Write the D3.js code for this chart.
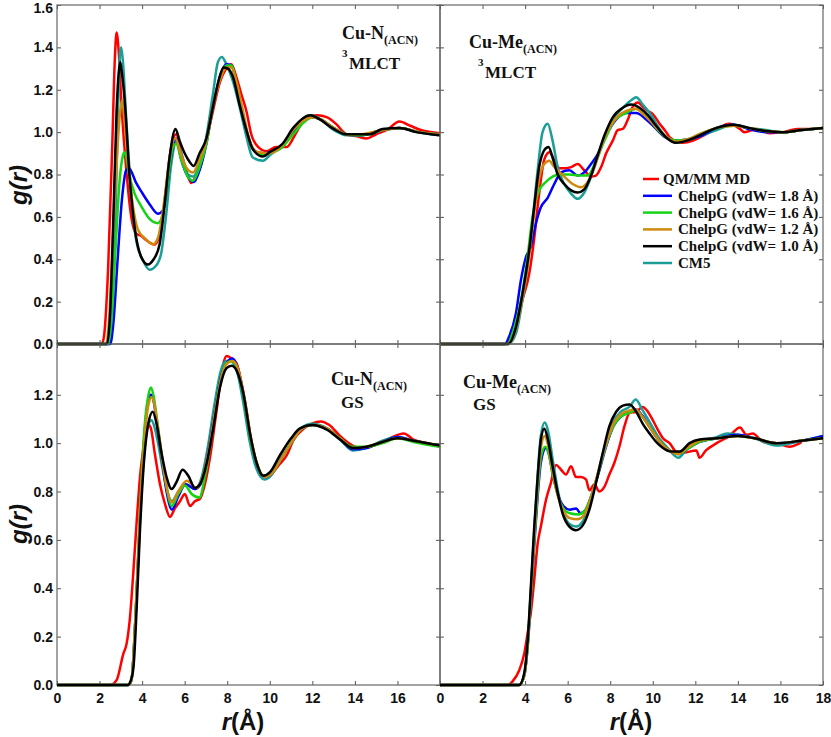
<!DOCTYPE html>
<html>
<head>
<meta charset="utf-8">
<script src="https://d3js.org/d3.v7.min.js"></script>
<style>
	body { margin: 0; background: #fff; }
	.tick text { font-family: "Liberation Sans", Arial, sans-serif; font-weight: bold; font-size: 14px; fill: #111; }
	.tick line { stroke: #555; }
	.axis-title { font-family: "Liberation Sans", Arial, sans-serif; font-weight: bold; font-size: 24px; fill: #111; }
	.note, .legend-label { font-family: "Liberation Serif", "Times New Roman", serif; font-weight: bold; fill: #111; }
	.frame { fill: none; stroke: #666; stroke-width: 1.2; }
	.rdf { fill: none; stroke-width: 2.5; stroke-linejoin: round; }
</style>
</head>
<body>
<div id="chart"></div>
<script>

// legend order: QM/MM, vdW 1.8, vdW 1.6, vdW 1.2, vdW 1.0, CM5
const seriesNames = ["QM/MM MD", "ChelpG (vdW= 1.8 Å)", "ChelpG (vdW= 1.6 Å)", "ChelpG (vdW= 1.2 Å)", "ChelpG (vdW= 1.0 Å)", "CM5"];
const seriesColors = ["#ff0000", "#0000ff", "#14d414", "#cf8a0e", "#000000", "#1a9e96"];

const xTicks = [0, 2, 4, 6, 8, 10, 12, 14, 16, 18];
const yTicksTop = [0, 0.2, 0.4, 0.6, 0.8, 1.0, 1.2, 1.4, 1.6];
const yTicksBottom = [0, 0.2, 0.4, 0.6, 0.8, 1.0, 1.2];

// ---- Cu-N(ACN) 3MLCT ----
const tlQm = [[0,0],[2.1,0],[2.2,0.03],[2.4,0.35],[2.6,0.95],[2.72,1.35],[2.8,1.47],[2.9,1.38],[3.02,1.15],[3.25,0.83],[3.49,0.6],[3.72,0.52],[3.96,0.51],[4.2,0.49],[4.59,0.47],[4.9,0.55],[5.13,0.74],[5.37,0.93],[5.6,0.99],[5.84,0.9],[6.07,0.82],[6.31,0.76],[6.55,0.8],[6.78,0.85],[7.02,0.96],[7.33,1.1],[7.64,1.23],[7.96,1.3],[8.19,1.32],[8.43,1.26],[8.66,1.18],[8.9,1.1],[9.13,0.99],[9.45,0.93],[9.85,0.91],[10.3,0.93],[10.8,0.93],[11.2,0.99],[11.5,1.04],[12.2,1.08],[12.7,1.07],[13.1,1.04],[13.6,0.99],[14.1,0.98],[14.55,0.97],[15.0,0.99],[15.5,1.01],[16.1,1.05],[16.6,1.03],[17.1,1.01],[18,0.995]];
const tlV18 = [[0,0],[2.5,0],[2.65,0.1],[2.85,0.4],[3.05,0.68],[3.25,0.82],[3.38,0.83],[3.72,0.76],[3.96,0.72],[4.35,0.66],[4.74,0.615],[4.98,0.63],[5.21,0.77],[5.45,0.93],[5.6,0.97],[5.84,0.87],[6.15,0.79],[6.44,0.765],[6.7,0.82],[7.02,0.945],[7.33,1.12],[7.72,1.28],[7.96,1.32],[8.19,1.315],[8.58,1.15],[8.9,1.01],[9.29,0.91],[9.68,0.9],[10.0,0.905],[10.6,0.94],[11.1,1.0],[12.0,1.07],[12.4,1.06],[13.0,1.02],[13.6,0.99],[14.2,0.985],[15.3,1.01],[16.1,1.02],[17,1.0],[18,0.99]];
const tlV16 = [[0,0],[2.4,0],[2.55,0.1],[2.75,0.45],[2.95,0.78],[3.1,0.89],[3.18,0.905],[3.41,0.79],[3.65,0.71],[3.96,0.65],[4.35,0.59],[4.74,0.57],[4.98,0.615],[5.21,0.77],[5.45,0.93],[5.6,0.945],[5.84,0.87],[6.15,0.79],[6.39,0.77],[6.7,0.835],[7.02,0.945],[7.33,1.12],[7.72,1.27],[7.96,1.315],[8.19,1.315],[8.5,1.2],[8.9,1.01],[9.29,0.91],[9.68,0.895],[10.0,0.9],[10.6,0.93],[11.1,0.99],[12.0,1.07],[12.4,1.06],[13.0,1.02],[13.6,0.99],[14.2,0.985],[15.3,1.01],[16.1,1.02],[17,1.0],[18,0.99]];
const tlV12 = [[0,0],[2.3,0],[2.45,0.12],[2.6,0.45],[2.8,0.85],[2.95,1.08],[3.07,1.15],[3.15,1.08],[3.33,0.87],[3.57,0.65],[3.8,0.54],[4.12,0.5],[4.51,0.47],[4.74,0.5],[5.06,0.69],[5.29,0.88],[5.57,0.97],[5.84,0.89],[6.1,0.83],[6.39,0.81],[6.7,0.87],[7.02,0.96],[7.33,1.12],[7.64,1.24],[7.96,1.305],[8.19,1.305],[8.43,1.24],[8.74,1.1],[9.05,0.96],[9.45,0.905],[9.99,0.9],[10.6,0.94],[11.1,1.01],[12.0,1.07],[12.4,1.06],[13.0,1.02],[13.6,0.99],[14.2,0.99],[15.3,1.01],[16.1,1.02],[17,1.0],[18,0.99]];
const tlV10 = [[0,0],[2.35,0],[2.5,0.15],[2.65,0.6],[2.8,1.1],[2.9,1.28],[2.97,1.33],[3.05,1.28],[3.18,1.15],[3.41,0.79],[3.65,0.55],[3.96,0.41],[4.27,0.375],[4.51,0.395],[4.82,0.47],[5.06,0.66],[5.29,0.88],[5.57,1.015],[5.76,0.96],[6.0,0.9],[6.23,0.86],[6.42,0.84],[6.7,0.9],[7.02,0.97],[7.33,1.12],[7.64,1.26],[7.83,1.305],[8.03,1.30],[8.27,1.26],[8.58,1.13],[8.9,1.01],[9.2,0.92],[9.68,0.885],[9.99,0.905],[10.6,0.945],[11.1,1.02],[11.9,1.08],[12.35,1.06],[13.0,1.015],[13.6,0.99],[14.2,0.99],[14.7,0.99],[15.3,1.015],[16.1,1.02],[16.9,1.0],[18,0.985]];
const tlCm5 = [[0,0],[2.45,0],[2.6,0.15],[2.75,0.6],[2.88,1.15],[2.97,1.38],[3.02,1.40],[3.1,1.33],[3.25,1.07],[3.49,0.71],[3.72,0.49],[4.04,0.395],[4.35,0.35],[4.66,0.37],[4.9,0.43],[5.13,0.61],[5.37,0.85],[5.6,0.95],[5.84,0.9],[6.15,0.8],[6.39,0.79],[6.7,0.85],[7.02,0.98],[7.33,1.18],[7.56,1.33],[7.75,1.355],[7.96,1.32],[8.27,1.24],[8.58,1.12],[8.9,0.98],[9.2,0.88],[9.68,0.865],[9.99,0.89],[10.6,0.94],[11.1,1.01],[11.9,1.08],[12.4,1.06],[13.0,1.01],[13.6,0.985],[14.2,0.985],[14.7,0.99],[15.3,1.01],[16.1,1.02],[16.9,1.0],[18,0.985]];

// ---- Cu-Me(ACN) 3MLCT ----
const trQm = [[0,0],[3.05,0],[3.3,0.03],[3.57,0.08],[3.88,0.21],[4.19,0.33],[4.43,0.5],[4.66,0.71],[4.9,0.87],[5.14,0.905],[5.37,0.87],[5.61,0.83],[5.92,0.83],[6.16,0.835],[6.47,0.85],[6.78,0.82],[7.1,0.79],[7.33,0.795],[7.57,0.835],[7.81,0.9],[8.12,0.96],[8.36,1.01],[8.59,1.015],[8.83,1.06],[9.06,1.12],[9.3,1.14],[9.53,1.12],[9.77,1.1],[10.0,1.085],[10.32,1.04],[10.63,1.0],[10.8,0.975],[11.4,0.95],[11.9,0.96],[12.4,0.985],[13.0,1.015],[13.6,1.04],[14.1,1.015],[14.3,1.0],[14.9,1.015],[15.5,0.995],[16.1,1.0],[16.8,1.015],[17.4,1.015],[18,1.02]];
const trV18 = [[0,0],[3.05,0],[3.25,0.035],[3.57,0.145],[3.8,0.3],[4.04,0.41],[4.27,0.46],[4.51,0.57],[4.74,0.645],[5.06,0.69],[5.37,0.755],[5.69,0.81],[6.08,0.82],[6.47,0.795],[6.78,0.81],[7.1,0.85],[7.41,0.895],[7.81,0.985],[8.28,1.06],[8.75,1.09],[9.22,1.09],[9.69,1.06],[10.16,1.015],[10.6,0.975],[11.1,0.96],[11.6,0.965],[12.2,0.98],[13.0,1.02],[13.8,1.035],[14.5,1.015],[15.3,1.0],[16.1,1.0],[17,1.01],[18,1.02]];
const trV16 = [[0,0],[3.15,0],[3.5,0.08],[3.85,0.23],[4.1,0.4],[4.35,0.6],[4.66,0.725],[4.98,0.765],[5.29,0.79],[5.61,0.80],[6.08,0.80],[6.55,0.795],[6.94,0.795],[7.33,0.865],[7.73,0.96],[8.2,1.055],[8.75,1.09],[9.22,1.11],[9.69,1.08],[10.16,1.02],[10.63,0.975],[11.1,0.96],[11.6,0.965],[12.2,0.99],[13.0,1.02],[13.8,1.03],[14.5,1.02],[15.3,1.005],[16.1,1.0],[17,1.01],[18,1.02]];
const trV12 = [[0,0],[3.2,0],[3.57,0.07],[3.88,0.22],[4.19,0.42],[4.43,0.62],[4.66,0.78],[4.9,0.85],[5.14,0.865],[5.33,0.84],[5.53,0.82],[5.84,0.79],[6.24,0.755],[6.63,0.74],[6.94,0.765],[7.26,0.835],[7.57,0.93],[7.9,1.01],[8.3,1.07],[8.75,1.1],[9.2,1.11],[9.6,1.08],[10.0,1.04],[10.5,0.99],[11.1,0.955],[11.6,0.965],[12.2,0.99],[13.0,1.02],[13.8,1.03],[14.5,1.02],[15.3,1.005],[16.1,1.0],[17,1.01],[18,1.02]];
const trV10 = [[0,0],[3.2,0],[3.57,0.08],[3.88,0.24],[4.19,0.44],[4.43,0.65],[4.66,0.835],[4.9,0.915],[5.1,0.93],[5.29,0.88],[5.53,0.8],[5.84,0.755],[6.16,0.725],[6.47,0.715],[6.78,0.73],[7.1,0.795],[7.41,0.89],[7.73,0.985],[8.12,1.07],[8.59,1.115],[8.98,1.13],[9.38,1.115],[9.77,1.08],[10.16,1.03],[10.63,0.975],[11.1,0.95],[11.6,0.96],[12.2,0.985],[13.0,1.02],[13.8,1.035],[14.5,1.02],[15.3,1.005],[16.1,1.0],[17,1.01],[18,1.02]];
const trCm5 = [[0,0],[3.2,0],[3.57,0.05],[3.88,0.21],[4.11,0.36],[4.35,0.58],[4.59,0.82],[4.82,1.0],[5.06,1.04],[5.29,0.96],[5.53,0.835],[5.84,0.755],[6.16,0.71],[6.47,0.685],[6.78,0.715],[7.1,0.79],[7.41,0.88],[7.73,0.975],[8.12,1.06],[8.59,1.115],[8.98,1.15],[9.22,1.165],[9.53,1.13],[9.93,1.08],[10.32,1.015],[10.71,0.97],[11.1,0.95],[11.6,0.96],[12.2,0.98],[13.0,1.01],[13.8,1.035],[14.5,1.02],[15.3,1.01],[16.1,1.0],[17,1.01],[18,1.02]];

// ---- Cu-N(ACN) GS ----
const blQm = [[0,0],[2.5,0],[2.8,0.02],[3.12,0.13],[3.27,0.17],[3.43,0.28],[3.59,0.47],[3.74,0.67],[3.9,0.86],[4.06,0.98],[4.24,1.08],[4.4,1.065],[4.6,0.955],[4.84,0.83],[5.07,0.75],[5.31,0.695],[5.54,0.73],[5.78,0.76],[6.01,0.79],[6.25,0.74],[6.48,0.76],[6.72,0.77],[6.95,0.83],[7.19,0.94],[7.5,1.135],[7.82,1.33],[7.97,1.36],[8.21,1.35],[8.44,1.33],[8.68,1.245],[8.91,1.135],[9.15,0.995],[9.38,0.915],[9.7,0.865],[10.01,0.87],[10.48,0.915],[10.8,0.95],[11.1,1.01],[11.6,1.06],[12.4,1.09],[12.8,1.075],[13.3,1.03],[13.8,0.995],[14.2,0.98],[14.7,0.985],[15.2,1.0],[15.65,1.02],[16.3,1.04],[16.75,1.015],[17.4,1.0],[18,0.985]];
const blV18 = [[0,0],[3.35,0],[3.5,0.02],[3.7,0.3],[3.9,0.7],[4.1,1.02],[4.3,1.18],[4.42,1.2],[4.55,1.17],[4.68,1.09],[4.92,0.94],[5.15,0.8],[5.4,0.725],[5.7,0.78],[6.05,0.83],[6.5,0.81],[6.8,0.84],[7.1,0.96],[7.4,1.12],[7.7,1.27],[8.0,1.335],[8.25,1.35],[8.5,1.31],[8.8,1.18],[9.1,1.02],[9.4,0.91],[9.75,0.86],[10.05,0.87],[10.5,0.93],[11.0,1.0],[11.5,1.06],[12.0,1.075],[12.7,1.06],[13.3,1.02],[13.9,0.975],[14.55,0.98],[15.3,1.005],[16.0,1.025],[16.75,1.01],[18,0.99]];
const blV16 = [[0,0],[3.35,0],[3.5,0.02],[3.7,0.3],[3.9,0.72],[4.1,1.05],[4.3,1.2],[4.42,1.23],[4.55,1.19],[4.68,1.11],[4.92,0.955],[5.15,0.82],[5.39,0.74],[5.7,0.79],[6.01,0.825],[6.33,0.79],[6.69,0.775],[6.95,0.86],[7.27,1.025],[7.6,1.22],[7.95,1.33],[8.2,1.34],[8.45,1.31],[8.76,1.2],[9.07,1.03],[9.38,0.92],[9.7,0.865],[10.01,0.87],[10.5,0.93],[11.0,1.0],[11.5,1.06],[12.0,1.075],[12.7,1.06],[13.3,1.02],[13.9,0.985],[14.55,0.985],[15.3,1.0],[16.0,1.02],[16.75,1.005],[18,0.985]];
const blV12 = [[0,0],[3.35,0],[3.5,0.02],[3.7,0.3],[3.9,0.7],[4.1,1.0],[4.3,1.16],[4.45,1.19],[4.6,1.15],[4.75,1.06],[4.95,0.93],[5.15,0.82],[5.4,0.755],[5.7,0.8],[6.1,0.845],[6.55,0.815],[6.85,0.86],[7.15,0.98],[7.45,1.14],[7.75,1.28],[8.0,1.33],[8.25,1.34],[8.5,1.31],[8.8,1.19],[9.1,1.03],[9.4,0.915],[9.75,0.86],[10.05,0.87],[10.5,0.93],[11.0,1.0],[11.5,1.06],[12.0,1.075],[12.7,1.06],[13.3,1.02],[13.9,0.98],[14.55,0.985],[15.3,1.005],[16.0,1.02],[16.75,1.01],[18,0.99]];
const blV10 = [[0,0],[3.35,0],[3.43,0.01],[3.59,0.07],[3.74,0.31],[3.9,0.64],[4.06,0.89],[4.29,1.08],[4.5,1.13],[4.68,1.08],[4.92,0.955],[5.15,0.86],[5.39,0.81],[5.62,0.84],[5.9,0.89],[6.17,0.865],[6.48,0.815],[6.72,0.83],[7.03,0.915],[7.35,1.065],[7.66,1.23],[7.97,1.31],[8.21,1.32],[8.44,1.30],[8.76,1.205],[9.07,1.04],[9.38,0.92],[9.7,0.865],[10.01,0.88],[10.48,0.95],[11.0,1.02],[11.4,1.06],[12.0,1.075],[12.7,1.055],[13.3,1.015],[13.9,0.98],[14.55,0.985],[15.3,1.005],[16.0,1.02],[16.75,1.01],[18,0.99]];
const blCm5 = [[0,0],[3.35,0],[3.5,0.02],[3.7,0.3],[3.9,0.68],[4.1,0.96],[4.3,1.08],[4.45,1.095],[4.6,1.06],[4.75,1.0],[4.95,0.9],[5.15,0.81],[5.4,0.76],[5.7,0.8],[6.05,0.83],[6.5,0.81],[6.8,0.86],[7.1,0.99],[7.4,1.16],[7.7,1.3],[7.95,1.34],[8.15,1.34],[8.45,1.3],[8.75,1.17],[9.05,1.01],[9.35,0.9],[9.75,0.85],[10.05,0.865],[10.5,0.93],[11.0,1.0],[11.5,1.065],[12.0,1.08],[12.7,1.06],[13.3,1.015],[13.9,0.97],[14.55,0.98],[15.3,1.01],[16.0,1.025],[16.75,1.01],[18,0.99]];

// ---- Cu-Me(ACN) GS ----
const brQm = [[0,0],[3.2,0],[3.41,0.015],[3.72,0.06],[3.96,0.13],[4.12,0.215],[4.27,0.3],[4.43,0.435],[4.59,0.585],[4.74,0.655],[4.98,0.765],[5.21,0.835],[5.45,0.91],[5.69,0.89],[5.92,0.87],[6.16,0.905],[6.39,0.86],[6.63,0.86],[6.86,0.85],[7.02,0.805],[7.26,0.83],[7.49,0.8],[7.73,0.82],[7.96,0.87],[8.2,0.92],[8.43,0.985],[8.67,1.07],[8.91,1.125],[9.22,1.13],[9.53,1.15],[9.77,1.13],[10.0,1.095],[10.24,1.055],[10.48,1.02],[10.79,1.0],[11.1,0.965],[11.4,0.96],[12.05,0.97],[12.2,0.94],[12.5,0.97],[13.0,1.0],[13.6,1.03],[14.1,1.065],[14.4,1.035],[14.7,1.04],[15.2,1.005],[15.8,1.0],[16.45,0.985],[16.8,0.995],[17.0,1.005]];
const brV18 = [[0,0],[3.72,0],[3.96,0.04],[4.12,0.16],[4.27,0.35],[4.43,0.58],[4.59,0.78],[4.74,0.92],[4.98,0.98],[5.12,0.955],[5.3,0.87],[5.55,0.785],[5.8,0.74],[6.1,0.725],[6.4,0.73],[6.6,0.71],[6.85,0.725],[7.1,0.78],[7.45,0.875],[7.8,0.985],[8.15,1.07],[8.5,1.11],[8.9,1.13],[9.2,1.14],[9.5,1.115],[9.9,1.06],[10.3,1.01],[10.7,0.975],[11.2,0.955],[11.6,0.975],[12.2,1.005],[13.0,1.02],[14.0,1.035],[14.8,1.02],[15.8,1.0],[17,1.01],[18,1.03]];
const brV16 = [[0,0],[3.72,0],[3.96,0.04],[4.12,0.16],[4.27,0.36],[4.43,0.6],[4.59,0.8],[4.74,0.94],[4.95,0.985],[5.1,0.96],[5.3,0.87],[5.55,0.78],[5.8,0.73],[6.1,0.71],[6.5,0.705],[6.8,0.72],[7.1,0.78],[7.45,0.88],[7.8,0.99],[8.15,1.07],[8.5,1.11],[8.9,1.125],[9.2,1.135],[9.5,1.11],[9.9,1.06],[10.3,1.01],[10.7,0.975],[11.2,0.955],[11.6,0.975],[12.2,1.005],[13.0,1.02],[14.0,1.03],[14.8,1.02],[15.8,1.0],[17,1.01],[18,1.02]];
const brV12 = [[0,0],[3.72,0],[3.96,0.04],[4.12,0.17],[4.27,0.38],[4.43,0.62],[4.59,0.83],[4.74,0.98],[4.92,1.03],[5.08,0.99],[5.3,0.88],[5.55,0.78],[5.8,0.72],[6.1,0.69],[6.45,0.685],[6.75,0.7],[7.05,0.76],[7.4,0.87],[7.75,0.98],[8.1,1.07],[8.5,1.12],[8.9,1.135],[9.2,1.14],[9.5,1.11],[9.9,1.06],[10.3,1.01],[10.7,0.975],[11.2,0.955],[11.6,0.98],[12.2,1.01],[13.0,1.02],[14.0,1.03],[14.8,1.02],[15.8,1.0],[17,1.01],[18,1.02]];
const brV10 = [[0,0],[3.72,0],[3.96,0.05],[4.12,0.185],[4.27,0.405],[4.43,0.655],[4.59,0.86],[4.74,1.015],[4.9,1.06],[5.06,1.02],[5.29,0.905],[5.53,0.795],[5.76,0.71],[6.08,0.655],[6.39,0.64],[6.71,0.66],[7.02,0.725],[7.33,0.835],[7.65,0.96],[7.96,1.07],[8.28,1.13],[8.59,1.155],[8.91,1.16],[9.22,1.13],[9.53,1.08],[9.85,1.04],[10.16,1.005],[10.48,0.98],[10.87,0.965],[11.26,0.965],[11.73,1.0],[12.2,1.015],[13.0,1.02],[14.0,1.03],[14.8,1.02],[15.8,1.0],[17,1.01],[18,1.02]];
const brCm5 = [[0,0],[3.7,0],[3.96,0.04],[4.12,0.17],[4.27,0.39],[4.43,0.64],[4.59,0.87],[4.74,1.03],[4.92,1.085],[5.08,1.05],[5.3,0.93],[5.55,0.8],[5.8,0.71],[6.1,0.665],[6.4,0.655],[6.7,0.675],[7.0,0.74],[7.35,0.85],[7.7,0.97],[8.1,1.08],[8.5,1.13],[8.9,1.15],[9.2,1.18],[9.5,1.14],[9.9,1.08],[10.3,1.02],[10.7,0.98],[11.2,0.94],[11.6,0.975],[12.2,1.01],[13.0,1.025],[13.5,1.04],[14.0,1.035],[14.8,1.02],[15.8,0.99],[17,1.01],[18,1.03]];


/*
 * RdfPanel - one g(r) panel of the 2x2 grid
 */

class RdfPanel {

	constructor(svg, config) {
		this.svg = svg;
		this.config = config;
		this.initVis();
	}

	initVis() {
		let vis = this;
		let c = vis.config;

		vis.x = d3.scaleLinear().domain([0, 18]).range([c.left, c.right]);
		vis.y = d3.scaleLinear().domain([0, c.yMax]).range([c.bottom, c.top]);

		vis.g = vis.svg.append("g");

		vis.g.append("defs")
			.append("clipPath")
			.attr("id", "clip-" + c.id)
			.append("rect")
			.attr("x", c.left)
			.attr("y", c.top - 3)
			.attr("width", c.right - c.left)
			.attr("height", c.bottom - c.top + 6);

		// ticks point inward on all four sides
		let bottomAxis = d3.axisBottom(vis.x).tickValues(xTicks)
			.tickSizeInner(-4).tickSizeOuter(0).tickPadding(8)
			.tickFormat(d => (c.xLabels && d <= c.xLabelMax) ? d : "");
		let topAxis = d3.axisTop(vis.x).tickValues(xTicks)
			.tickSizeInner(-4).tickSizeOuter(0).tickFormat("");
		let leftAxis = d3.axisLeft(vis.y).tickValues(c.yTicks)
			.tickSizeInner(-4).tickSizeOuter(0).tickPadding(4)
			.tickFormat(d => c.yLabels ? d3.format(".1f")(d) : "");
		let rightAxis = d3.axisRight(vis.y).tickValues(c.yTicks)
			.tickSizeInner(-4).tickSizeOuter(0).tickFormat("");

		vis.g.append("g").attr("transform", "translate(0," + c.bottom + ")").call(bottomAxis);
		vis.g.append("g").attr("transform", "translate(0," + c.top + ")").call(topAxis);
		vis.g.append("g").attr("transform", "translate(" + c.left + ",0)").call(leftAxis)
			.selectAll(".tick text")
			.filter(d => d === c.yMax)
			.attr("dy", "0.5em");   // keep the top label inside the page
		vis.g.append("g").attr("transform", "translate(" + c.right + ",0)").call(rightAxis);
		vis.g.selectAll(".domain").remove();

		vis.g.append("rect")
			.attr("class", "frame")
			.attr("x", c.left)
			.attr("y", c.top)
			.attr("width", c.right - c.left)
			.attr("height", c.bottom - c.top);

		vis.line = d3.line()
			.x(d => vis.x(d[0]))
			.y(d => vis.y(d[1]))
			.curve(d3.curveMonotoneX);

		vis.updateVis();
	}

	updateVis() {
		let vis = this;
		let c = vis.config;

		// draw red first, black last
		let order = [0, 5, 1, 2, 3, 4];
		vis.g.append("g")
			.attr("clip-path", "url(#clip-" + c.id + ")")
			.selectAll(".rdf")
			.data(order)
			.enter()
			.append("path")
			.attr("class", "rdf")
			.attr("stroke", i => seriesColors[i])
			.attr("d", i => vis.line(c.series[i]));

		// panel label
		let note = vis.g.append("g").attr("class", "note");
		let t1 = note.append("text").attr("x", c.note.x).attr("y", c.note.y);
		t1.append("tspan").attr("font-size", 18).text(c.note.atom);
		t1.append("tspan").attr("font-size", 12).attr("dy", 5).text("(ACN)");

		if (c.note.state === "MLCT") {
			note.append("text")
				.attr("x", c.note.x2)
				.attr("y", c.note.y2 - 12)
				.attr("font-size", 11)
				.text("3");
			note.append("text")
				.attr("x", c.note.x2 + 7)
				.attr("y", c.note.y2)
				.attr("font-size", 17)
				.text("MLCT");
		} else {
			note.append("text")
				.attr("x", c.note.x2)
				.attr("y", c.note.y2)
				.attr("font-size", 17)
				.text("GS");
		}
	}
}


let svg = d3.select("#chart").append("svg")
	.attr("width", 831)
	.attr("height", 737);

let panels = [
	{id: "tl", left: 57, right: 440, top: 5, bottom: 344, yMax: 1.6, yTicks: yTicksTop,
		xLabels: false, yLabels: true, series: [tlQm, tlV18, tlV16, tlV12, tlV10, tlCm5],
		note: {atom: "Cu-N", state: "MLCT", x: 342, y: 39, x2: 342, y2: 69}},
	{id: "tr", left: 440, right: 823, top: 5, bottom: 344, yMax: 1.6, yTicks: yTicksTop,
		xLabels: false, yLabels: false, series: [trQm, trV18, trV16, trV12, trV10, trCm5],
		note: {atom: "Cu-Me", state: "MLCT", x: 469, y: 48, x2: 478, y2: 78}},
	{id: "bl", left: 57, right: 440, top: 344, bottom: 685, yMax: 1.41, yTicks: yTicksBottom,
		xLabels: true, xLabelMax: 16, yLabels: true, series: [blQm, blV18, blV16, blV12, blV10, blCm5],
		note: {atom: "Cu-N", state: "GS", x: 331, y: 385, x2: 341, y2: 408}},
	{id: "br", left: 440, right: 823, top: 344, bottom: 685, yMax: 1.41, yTicks: yTicksBottom,
		xLabels: true, xLabelMax: 18, yLabels: false, series: [brQm, brV18, brV16, brV12, brV10, brCm5],
		note: {atom: "Cu-Me", state: "GS", x: 463, y: 388, x2: 473, y2: 410}}
];

panels.forEach(p => new RdfPanel(svg, p));

// axis titles
[185, 524].forEach(cy => {
	svg.append("text")
		.attr("class", "axis-title")
		.attr("font-style", "italic")
		.attr("text-anchor", "middle")
		.attr("transform", "translate(27," + cy + ") rotate(-90)")
		.text("g(r)");
});

[243, 631].forEach(cx => {
	let t = svg.append("text")
		.attr("class", "axis-title")
		.attr("text-anchor", "middle")
		.attr("x", cx)
		.attr("y", 730);
	t.append("tspan").attr("font-style", "italic").text("r");
	t.append("tspan").text("(Å)");
});

// legend, top-right panel
let legend = svg.append("g");
seriesNames.forEach((name, i) => {
	let y = 184 + i * 16.8;
	let short = i === 0;
	legend.append("line")
		.attr("x1", 643)
		.attr("x2", short ? 659 : 672)
		.attr("y1", y - 5)
		.attr("y2", y - 5)
		.attr("stroke", seriesColors[i])
		.attr("stroke-width", 2.5);
	legend.append("text")
		.attr("class", "legend-label")
		.attr("x", short ? 663 : 678)
		.attr("y", y)
		.attr("font-size", 15)
		.text(name);
});

</script>
</body>
</html>
